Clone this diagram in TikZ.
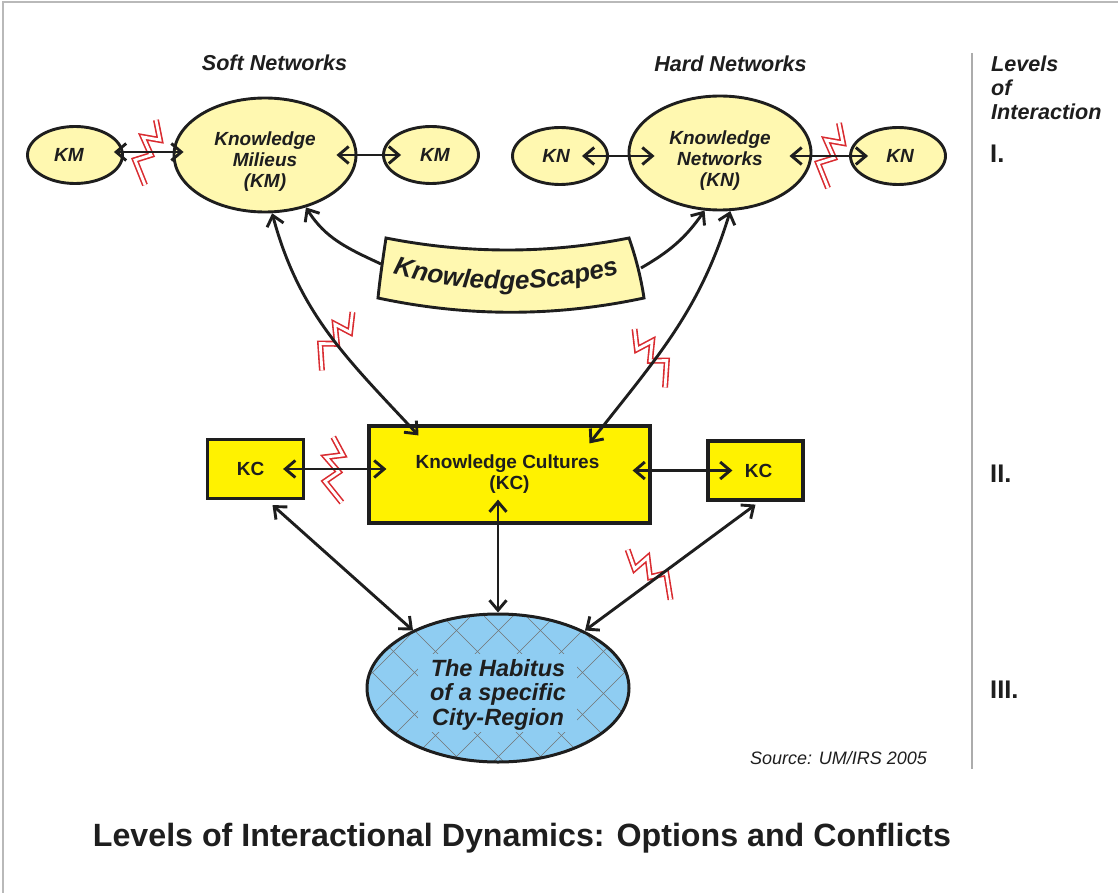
\documentclass[tikz,border=0pt]{standalone}
\usepackage{fontspec}
\setmainfont{Liberation Sans}
\usetikzlibrary{shapes.geometric, arrows.meta, decorations.text}
\definecolor{softyellow}{HTML}{FFF8B0}
\definecolor{cultureyellow}{HTML}{FFF200}
\definecolor{habitusblue}{HTML}{8FCDF2}
\definecolor{inkblack}{HTML}{1E1E1E}
\definecolor{clashred}{HTML}{D92B30}
\newcommand{\firstline}[1]{\rule{0pt}{#1}}
\tikzset{
  >={Straight Barb[length=10pt,width=17pt]},
  softsmall/.style={ellipse, minimum width=95pt, minimum height=57pt, fill=softyellow, line width=2.9pt, draw=inkblack, text=inkblack, inner sep=0pt, font=\fontsize{19}{21}\selectfont\bfseries\itshape},
  softbig/.style={softsmall, minimum width=182pt, minimum height=114pt, align=center},
  culturebox/.style={rectangle, fill=cultureyellow, line width=3.2pt, draw=inkblack, text=inkblack, inner sep=0pt, align=center, font=\fontsize{19}{21}\selectfont\bfseries},
  link/.style={line width=2.9pt, <->, color=inkblack},
  feeder/.style={line width=2.9pt, ->, color=inkblack},
  heading/.style={inner sep=0pt, text=inkblack, font=\fontsize{21.6}{24}\selectfont\bfseries\itshape},
  levelmark/.style={anchor=west, inner sep=0pt, text=inkblack, font=\fontsize{25.5}{28}\selectfont\bfseries},
  clash/.pic={
    \draw [clashred, line width=1.6pt, double=white, double distance=2.8pt, miter limit=10]
      (8pt, 32pt) -- (12pt, 12pt) -- (-5pt, 15pt) -- (3pt, -3pt) -- (-13pt, -8pt) -- (-3pt, -33pt);
  }
}
\begin{document}
\begin{tikzpicture}
\useasboundingbox (0pt, 0pt) rectangle (1118pt, -893pt);
\draw [color=gray!55, line width=2pt] (3pt, -893pt) -- (3pt, -2.5pt) -- (1118pt, -2.5pt);
\draw [color=gray!65, line width=1.6pt] (972pt, -53pt) -- (972pt, -769pt);
% soft side
\node (softleft) [softsmall] at (75pt, -155pt) {\hspace*{-12pt}KM};
\node (softmain) [softbig] at (265pt, -155pt) {\firstline{26pt}Knowledge\\Milieus\\(KM)};
\node (softright) [softsmall] at (431pt, -155pt) {\hspace*{8pt}KM};
% hard side
\node (hardleft) [softsmall] at (560pt, -156pt) {\hspace*{-8pt}KN};
\node (hardmain) [softbig] at (720pt, -153pt) {\firstline{28pt}Knowledge\\Networks\\(KN)};
\node (hardright) [softsmall] at (898pt, -156pt) {\hspace*{4pt}KN};
% scapes
\draw [fill=softyellow, line width=2.9pt, draw=inkblack]
  (386pt, -238pt) .. controls (467pt, -254pt) and (548pt, -254pt) .. (629pt, -238pt)
  .. controls (636pt, -258pt) and (641pt, -278pt) .. (644pt, -298pt)
  .. controls (555pt, -317pt) and (467pt, -317pt) .. (378pt, -298pt)
  .. controls (380pt, -278pt) and (383pt, -258pt) .. (386pt, -238pt) -- cycle;
\path [decorate, decoration={text along path, text align=center, text color=inkblack,
    text={|\fontsize{26}{28}\selectfont\bfseries\itshape|KnowledgeScapes}}]
  (391pt, -273pt) .. controls (466pt, -295pt) and (546pt, -295pt) .. (621pt, -273pt);
\coordinate (scapesleft) at (381pt, -264pt);
\coordinate (scapesright) at (641pt, -268pt);
% cultures
\node (cultureleft) [culturebox, minimum width=96pt, minimum height=59pt] at (255.5pt, -469pt) {\hspace*{-10pt}KC};
\node (culturemain) [culturebox, minimum width=281pt, minimum height=97pt] at (509.5pt, -474.5pt) {\hspace*{-4pt}Knowledge Cultures\\(KC)};
\node (cultureright) [culturebox, minimum width=95pt, minimum height=59pt] at (755.5pt, -470.5pt) {\hspace*{6pt}KC};
% habitus
\fill [habitusblue] (498pt, -688pt) ellipse (131pt and 74pt);
\begin{scope}[shift={(498pt, -688pt)}]
  \clip (0pt, 0pt) ellipse (131pt and 74pt);
  \foreach \k in {-6,...,6} {
    \draw [color=black!55, line width=0.6pt] ({(27+42*\k-100)*1pt}, -100pt) -- ({(27+42*\k+100)*1pt}, 100pt);
    \draw [color=black!55, line width=0.6pt] ({(16+42*\k+100)*1pt}, -100pt) -- ({(16+42*\k-100)*1pt}, 100pt);
  }
  \fill [habitusblue] (-80pt, 34pt) rectangle (79pt, -44pt);
\end{scope}
\node (habitus) [ellipse, minimum width=262pt, minimum height=148pt, line width=3pt, draw=inkblack, text=inkblack, inner sep=0pt, align=center,
  font=\fontsize{23.5}{24.5}\selectfont\bfseries\itshape] at (498pt, -688pt) {\firstline{30pt}The Habitus\\of a specific\\City-Region};
% clashes
\pic at (148pt, -152pt) {clash};
\pic at (831pt, -155pt) {clash};
\pic [rotate=-18] at (335pt, -340pt) {clash};
\pic [rotate=18, xscale=-1] at (652pt, -357pt) {clash};
\pic [rotate=17] at (335pt, -470pt) {clash};
\pic [rotate=31, xscale=-1] at (651pt, -573pt) {clash};
% links
\draw [link, shorten <=-10pt, shorten >=-11pt] ([yshift=3pt]softleft.east) to ([yshift=3pt]softmain.west);
\draw [link, shorten <=-21pt, shorten >=-19pt] (softmain.east) to (softright.west);
\draw [link, shorten <=-27pt, shorten >=-27pt] (hardleft.east) to (hardleft.east -| hardmain.west);
\draw [link, shorten <=-23pt, shorten >=-19pt] (hardright.west -| hardmain.east) to (hardright.west);
\draw [link] (softmain.-83) to [out=-75, in=133] ([xshift=-91pt, yshift=-11pt]culturemain.north);
\draw [link] (hardmain.-80) to [out=-107, in=52] ([xshift=80pt, yshift=-19pt]culturemain.north);
\draw [feeder] (scapesleft) to [out=155, in=-58] (softmain.-52);
\draw [feeder] (scapesright) to [out=30, in=-125] (hardmain.-105);
\draw [link, shorten <=-22pt, shorten >=-19pt] (cultureleft.east) to (cultureleft.east -| culturemain.west);
\draw [link, shorten <=-19pt, shorten >=-26pt] (cultureright.west -| culturemain.east) to (cultureright.west);
\draw [link] ([xshift=17pt, yshift=-5pt]cultureleft.south) to ([xshift=-85pt, yshift=-18pt]habitus.north);
\draw [link, shorten <=-25pt] (culturemain.south -| habitus.north) to (habitus.north);
\draw [link] ([yshift=-3pt]cultureright.south) to ([xshift=87pt, yshift=-18pt]habitus.north);
% headings
\node (softhead) [heading] at (274.5pt, -63pt) {Soft Networks};
\node (hardhead) [heading] at (730.5pt, -64pt) {Hard Networks};
\node (levels) [heading, anchor=north west, align=left] at (991pt, -56pt) {Levels\\of\\Interaction};
\node (levelone) [levelmark] at (990pt, -154pt) {I.};
\node (leveltwo) [levelmark] at (990pt, -474pt) {II.};
\node (levelthree) [levelmark] at (990pt, -690pt) {III.};
\node (source) [inner sep=0pt, text=inkblack, font=\fontsize{18}{20}\selectfont\itshape] at (838.5pt, -758pt) {Source: UM/IRS 2005};
\node (title) [inner sep=0pt, text=inkblack, font=\fontsize{32.2}{34}\selectfont\bfseries] at (522pt, -838pt) {Levels of Interactional Dynamics: Options and Conflicts};
\end{tikzpicture}
\end{document}
